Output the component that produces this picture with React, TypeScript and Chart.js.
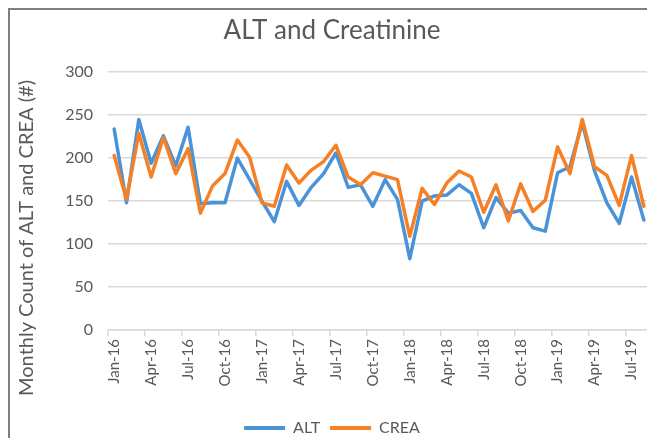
import React, { useEffect, useRef } from "react";
import { Chart, registerables } from "chart.js";

Chart.register(...registerables);

const months: string[] = [
  "Jan-16", "Feb-16", "Mar-16", "Apr-16", "May-16", "Jun-16", "Jul-16", "Aug-16", "Sep-16", "Oct-16", "Nov-16", "Dec-16",
  "Jan-17", "Feb-17", "Mar-17", "Apr-17", "May-17", "Jun-17", "Jul-17", "Aug-17", "Sep-17", "Oct-17", "Nov-17", "Dec-17",
  "Jan-18", "Feb-18", "Mar-18", "Apr-18", "May-18", "Jun-18", "Jul-18", "Aug-18", "Sep-18", "Oct-18", "Nov-18", "Dec-18",
  "Jan-19", "Feb-19", "Mar-19", "Apr-19", "May-19", "Jun-19", "Jul-19", "Aug-19",
];

const altValues: number[] = [
  234, 148, 245, 194, 226, 191, 236, 147, 148, 148, 200,
  175, 150, 126, 173, 145, 166, 182, 206, 166, 169, 144,
  175, 152, 83, 150, 156, 157, 169, 159, 119, 154, 136,
  139, 119, 115, 183, 190, 241, 185, 148, 124, 178, 128,
];

const creaValues: number[] = [
  203, 152, 229, 178, 224, 182, 211, 136, 168, 182, 221,
  201, 148, 144, 192, 171, 186, 196, 215, 178, 169, 183,
  179, 175, 109, 165, 146, 171, 185, 178, 137, 169, 127,
  170, 138, 151, 213, 182, 245, 190, 180, 145, 203, 144,
];

const seriesNames: string[] = ["ALT", "CREA"];
const seriesColors: string[] = ["#4A93D9", "#F58025"];

const yTicks: number[] = [0, 50, 100, 150, 200, 250, 300];
const yTitle = "Monthly Count of ALT and CREA (#)";

const TEXT = "#595959";
const GRID = "#D9D9D9";
const FONT = "Lato, 'Open Sans', sans-serif";

const yTitlePlugin = {
  id: "yTitlePlugin",
  afterDraw(chart: any) {
    const ctx = chart.ctx;
    ctx.save();
    ctx.fillStyle = TEXT;
    ctx.font = `20px ${FONT}`;
    ctx.textAlign = "center";
    ctx.textBaseline = "middle";
    ctx.translate(17, 228);
    ctx.rotate(-Math.PI / 2);
    ctx.fillText(yTitle, 0, 0);
    ctx.restore();
  },
};

export default function App() {
  const ref = useRef<HTMLCanvasElement | null>(null);

  useEffect(() => {
    document.documentElement.style.overflow = "hidden";
    document.body.style.overflow = "hidden";
    if (!ref.current) return;
    const chart = new Chart(ref.current, {
      type: "line",
      data: {
        labels: months,
        datasets: [
          {
            label: seriesNames[0],
            data: altValues,
            borderColor: seriesColors[0],
            backgroundColor: seriesColors[0],
            borderWidth: 3.5,
            pointRadius: 0,
            tension: 0,
            borderJoinStyle: "round",
            borderCapStyle: "round",
            order: 1,
          },
          {
            label: seriesNames[1],
            data: creaValues,
            borderColor: seriesColors[1],
            backgroundColor: seriesColors[1],
            borderWidth: 3.5,
            pointRadius: 0,
            tension: 0,
            borderJoinStyle: "round",
            borderCapStyle: "round",
            order: 0,
          },
        ],
      },
      plugins: [yTitlePlugin],
      options: {
        animation: false,
        responsive: false,
        maintainAspectRatio: false,
        layout: { padding: { left: 4, right: 5, top: 0, bottom: 4 } },
        plugins: {
          title: {
            display: true,
            text: "ALT and Creatinine",
            color: TEXT,
            font: { family: FONT, size: 26, weight: "normal" },
            padding: { top: 5, bottom: 26 },
          },
          legend: {
            position: "bottom",
            labels: {
              color: TEXT,
              font: { family: FONT, size: 16 },
              boxWidth: 41,
              boxHeight: 4,
              padding: 10,
              generateLabels: () =>
                seriesNames.map((n, i) => ({
                  text: n,
                  fillStyle: seriesColors[i],
                  strokeStyle: seriesColors[i],
                  lineWidth: 0,
                  datasetIndex: i,
                  hidden: false,
                  fontColor: TEXT,
                })),
            },
          },
          tooltip: { enabled: false },
        },
        scales: {
          x: {
            offset: true,
            grid: {
              offset: true,
              drawOnChartArea: false,
              drawTicks: true,
              tickLength: 6,
              lineWidth: 1.5,
              color: (ctx: any) =>
                typeof ctx.index === "number" && ctx.index % 3 === 0 ? GRID : "rgba(0,0,0,0)",
            },
            border: { display: true, color: GRID, width: 1.5 },
            ticks: {
              autoSkip: false,
              minRotation: 90,
              maxRotation: 90,
              padding: 3,
              color: TEXT,
              font: { family: FONT, size: 15 },
              callback: (_v: any, i: number) => (i % 3 === 0 ? months[i] : ""),
            },
            afterFit: (s: any) => {
              s.height = 80;
              s.paddingLeft = 0;
              s.paddingRight = 0;
            },
          },
          y: {
            min: yTicks[0],
            max: yTicks[yTicks.length - 1],
            ticks: {
              stepSize: 50,
              color: TEXT,
              padding: 15,
              font: { family: FONT, size: 16 },
            },
            grid: { color: GRID, lineWidth: 1.5, drawTicks: false },
            border: { display: false },
            afterFit: (s: any) => {
              s.width = 94;
            },
          },
        },
      },
    });
    return () => chart.destroy();
  }, []);

  return (
    <div
      style={{
        width: 645,
        height: 428,
        overflow: "hidden",
        borderTop: "2px solid #7F7F7F",
        borderLeft: "2px solid #7F7F7F",
        background: "#fff",
      }}
    >
      <canvas ref={ref} width={645} height={440} style={{ display: "block" }} />
    </div>
  );
}
